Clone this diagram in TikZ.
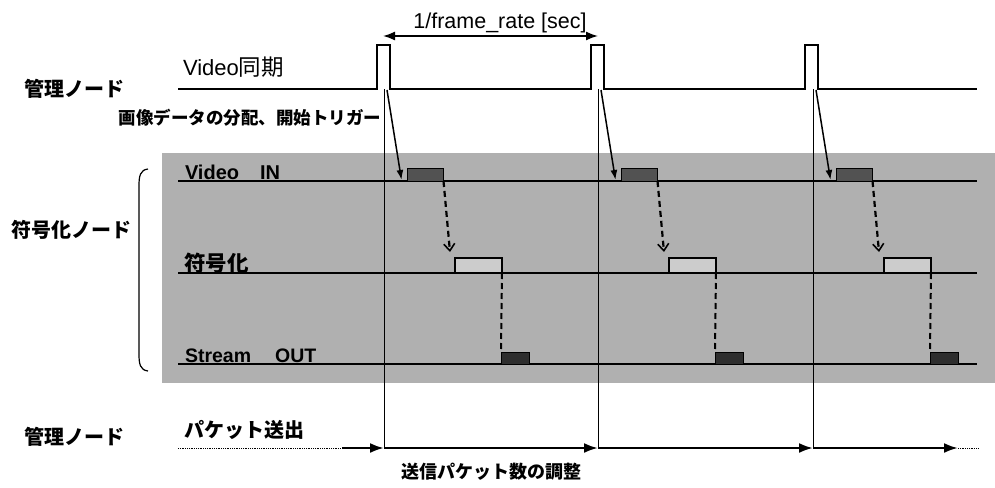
\documentclass[tikz,border=0pt]{standalone}
\usepackage{fontspec}
\setmainfont{Liberation Sans}
\newfontfamily\jp{Noto Sans CJK JP}
\usetikzlibrary{arrows.meta}
\begin{document}
\begin{tikzpicture}[x=1pt,y=-1pt,
  lbl/.style={inner sep=0pt,outer sep=0pt},
  sig/.style={line width=1.1pt},
  vline/.style={line width=0.7pt},
  vinbox/.style={draw,line width=1pt,fill=black!68,inner sep=0pt,outer sep=0pt,minimum width=36pt,minimum height=13pt,anchor=south west},
  encbox/.style={draw,line width=1.2pt,fill=black!20,inner sep=0pt,outer sep=0pt,minimum width=47pt,minimum height=15pt,anchor=south west},
  sobox/.style={draw,line width=0.8pt,fill=black!82,inner sep=0pt,outer sep=0pt,minimum width=28pt,minimum height=12pt,anchor=south west},
  trig/.style={line width=1.5pt,-{Latex[length=10pt,width=7pt]}},
  pass/.style={line width=2.2pt,dash pattern=on 6pt off 4pt,-{Straight Barb[length=7pt,width=11pt,line width=1.6pt]}},
  passl/.style={line width=2pt,dash pattern=on 6pt off 4pt},
  pk/.style={line width=2.4pt,-{Latex[length=14pt,width=10pt]}},
  dim/.style={line width=1.6pt,{Latex[length=12pt,width=9pt]}-{Latex[length=12pt,width=9pt]}}
]
\useasboundingbox (0,0) rectangle (995,487);
% shaded band of the encoder node
\fill[black!31] (162,153) rectangle (995,383);

% video sync signal
\draw[sig] (178,89) -- (377,89) -- (377,45) -- (390,45) -- (390,89)
  -- (591,89) -- (591,45) -- (604,45) -- (604,89)
  -- (805,89) -- (805,45) -- (818,45) -- (818,89) -- (977,89);

% time lines
\draw[sig] (178,181) -- (977,181);
\draw[sig] (178,273) -- (977,273);
\draw[sig] (178,364) -- (977,364);

% brace
\draw[line width=1.2pt] (148,169) .. controls (140,170) and (139,176) .. (139,186)
  -- (139,354) .. controls (139,364) and (140,370) .. (148,371);

% period arrow
\coordinate (fa) at (383,36);
\coordinate (fb) at (598,36);
\draw[dim] (fa) -- (fb);
\node[lbl,anchor=base,font=\fontsize{21.5}{25}\selectfont] (frate) at (500,29) {1/frame\_rate [sec]};

% packet line
\coordinate (q0) at (342,448);
\coordinate (qs) at (178,448);
\coordinate (q4) at (958,448);
\coordinate (qe) at (978,448);
\draw[line width=0.8pt,densely dotted] (qs) -- (q0);
\draw[line width=0.8pt,densely dotted] (q4) -- (qe);

\foreach \i/\t in {1/384,2/598,3/813}{
  \draw[vline] (\t,89) -- (\t,448);
  \coordinate (pb\i) at (\t+3,90);
  \coordinate (q\i) at (\t,448);
  \node[vinbox] (vin\i) at (\t+23.5,181) {};
  \node[encbox] (enc\i) at (\t+71,273) {};
  \node[sobox] (so\i) at (\t+117,364) {};
  \draw[trig] (pb\i) -- ([xshift=-6pt,yshift=1pt]vin\i.south west);
  \draw[pass] (vin\i.south east) -- ([xshift=-5pt,yshift=6pt]enc\i.north west);
  \draw[passl] (enc\i.south east) -- (so\i.north west);
}
\draw[pk] (q0) -- (q1);
\draw[pk] (q1) -- (q2);
\draw[pk] (q2) -- (q3);
\draw[pk] (q3) -- (q4);

% labels
\node[lbl,anchor=base west,font=\fontsize{22}{26}\selectfont] (vsync) at (183,75) {Video{\jp\fontsize{22.5}{26}\selectfont 同期}};
\node[lbl,anchor=west,font=\fontsize{20}{24}\selectfont\jp\bfseries] (mgr1) at (24,89) {管理ノード};
\node[lbl,anchor=east,font=\fontsize{17.5}{21}\selectfont\jp\bfseries] (trigtxt) at (381,118) {画像データの分配、開始トリガー};
\node[lbl,anchor=base west,font=\fontsize{20}{24}\selectfont\bfseries] (vinl) at (185,179) {Video\hspace{21pt}IN};
\node[lbl,anchor=west,font=\fontsize{21.5}{25}\selectfont\jp\bfseries] (encl) at (184,263) {符号化};
\node[lbl,anchor=base west,font=\fontsize{19.5}{24}\selectfont\bfseries] (sol) at (185,362) {Stream\hspace{24pt}OUT};
\node[lbl,anchor=west,font=\fontsize{20}{24}\selectfont\jp\bfseries] (encnode) at (11,230) {符号化ノード};
\node[lbl,anchor=west,font=\fontsize{20}{24}\selectfont\jp\bfseries] (mgr2) at (24,437) {管理ノード};
\node[lbl,anchor=west,font=\fontsize{20}{24}\selectfont\jp\bfseries] (pkt) at (184,430) {パケット送出};
\node[lbl,anchor=west,font=\fontsize{18}{22}\selectfont\jp\bfseries] (adj) at (401,472) {送信パケット数の調整};
\end{tikzpicture}
\end{document}
